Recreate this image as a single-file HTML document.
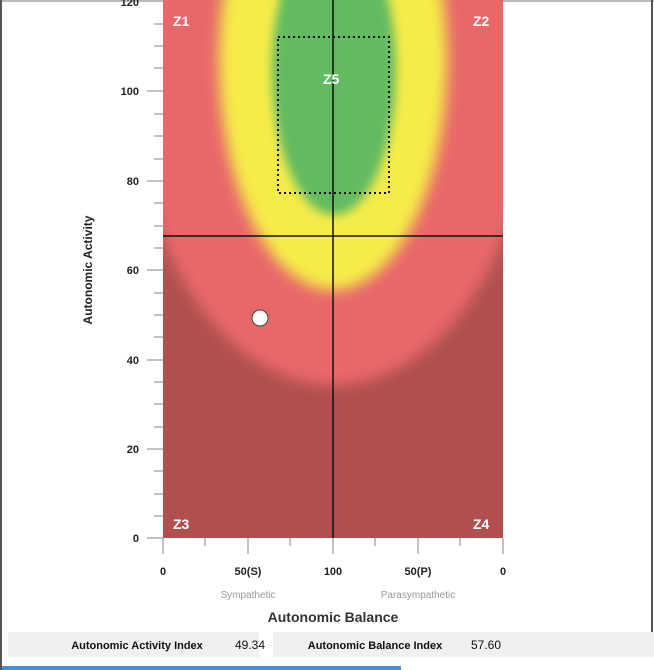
<!DOCTYPE html>
<html><head><style>
body{margin:0;background:#fff;width:654px;height:670px;overflow:hidden;font-family:"Liberation Sans",sans-serif}
</style></head><body>
<svg width="654" height="670" xmlns="http://www.w3.org/2000/svg" style="position:absolute;left:0;top:0">
<defs>
<clipPath id="c"><rect x="163" y="0" width="340" height="538"/></clipPath>
<filter id="b" x="-50%" y="-50%" width="200%" height="200%"><feGaussianBlur stdDeviation="7"/></filter>
<filter id="g" x="-50%" y="-50%" width="200%" height="200%"><feGaussianBlur stdDeviation="5"/></filter>
</defs>
<rect x="0" y="0" width="654" height="2" fill="#bbb"/>
<rect x="0" y="0" width="2" height="670" fill="#555"/>
<rect x="651" y="0" width="2" height="632" fill="#555"/>
<g clip-path="url(#c)">
<rect x="163" y="0" width="340" height="538" fill="#b0504e"/>
<ellipse cx="333" cy="60" rx="204" ry="325" fill="#e8676a" filter="url(#b)"/>
<ellipse cx="333" cy="60" rx="114" ry="230" fill="#f5ec48" filter="url(#b)"/>
<ellipse cx="334" cy="70" rx="62" ry="145" fill="#62bb60" filter="url(#g)"/>
<line x1="333" y1="0" x2="333" y2="538" stroke="#111" stroke-width="1.5"/>
<line x1="163" y1="236" x2="503" y2="236" stroke="#111" stroke-width="1.5"/>
<rect x="278" y="37" width="111" height="156" fill="none" stroke="#111" stroke-width="2" stroke-dasharray="2,3"/>
</g>
<g fill="#fff" font-weight="bold" font-size="14">
<text x="173" y="26">Z1</text><text x="473" y="26">Z2</text>
<text x="173" y="529">Z3</text><text x="473" y="529">Z4</text>
<text x="323" y="84">Z5</text>
</g>
<circle cx="260" cy="318" r="8" fill="#fff" stroke="#444" stroke-width="1"/>
<g stroke="#999" stroke-width="1.2">
<line x1="147" y1="538" x2="163" y2="538"/>
<line x1="147" y1="449" x2="163" y2="449"/>
<line x1="147" y1="360" x2="163" y2="360"/>
<line x1="147" y1="270" x2="163" y2="270"/>
<line x1="147" y1="181" x2="163" y2="181"/>
<line x1="147" y1="91" x2="163" y2="91"/>
<line x1="154" y1="516" x2="163" y2="516"/><line x1="154" y1="494" x2="163" y2="494"/><line x1="154" y1="471" x2="163" y2="471"/>
<line x1="154" y1="427" x2="163" y2="427"/><line x1="154" y1="404" x2="163" y2="404"/><line x1="154" y1="382" x2="163" y2="382"/>
<line x1="154" y1="337" x2="163" y2="337"/><line x1="154" y1="315" x2="163" y2="315"/><line x1="154" y1="293" x2="163" y2="293"/>
<line x1="154" y1="248" x2="163" y2="248"/><line x1="154" y1="226" x2="163" y2="226"/><line x1="154" y1="203" x2="163" y2="203"/>
<line x1="154" y1="159" x2="163" y2="159"/><line x1="154" y1="136" x2="163" y2="136"/><line x1="154" y1="114" x2="163" y2="114"/>
<line x1="154" y1="68" x2="163" y2="68"/><line x1="154" y1="46" x2="163" y2="46"/><line x1="154" y1="24" x2="163" y2="24"/>
<line x1="163" y1="538" x2="163" y2="554"/><line x1="248" y1="538" x2="248" y2="554"/><line x1="333" y1="538" x2="333" y2="554"/><line x1="418" y1="538" x2="418" y2="554"/><line x1="503" y1="538" x2="503" y2="554"/>
<line x1="205" y1="538" x2="205" y2="546"/><line x1="290" y1="538" x2="290" y2="546"/><line x1="375" y1="538" x2="375" y2="546"/><line x1="460" y1="538" x2="460" y2="546"/>
</g>
<g font-size="11" font-weight="bold" fill="#222" text-anchor="end">
<text x="139" y="542">0</text><text x="139" y="453">20</text><text x="139" y="364">40</text>
<text x="139" y="274">60</text><text x="139" y="185">80</text><text x="139" y="95">100</text><text x="139" y="6">120</text>
</g>
<g font-size="11" font-weight="bold" fill="#222" text-anchor="middle">
<text x="163" y="575">0</text><text x="248" y="575">50(S)</text><text x="333" y="575">100</text><text x="418" y="575">50(P)</text><text x="503" y="575">0</text>
</g>
<g font-size="10" fill="#999" text-anchor="middle">
<text x="248" y="598">Sympathetic</text><text x="418" y="598">Parasympathetic</text>
</g>
<text x="333" y="622" font-size="14" font-weight="bold" fill="#333" text-anchor="middle">Autonomic Balance</text>
<text transform="translate(92,270) rotate(-90)" font-size="12" font-weight="bold" fill="#222" text-anchor="middle">Autonomic Activity</text>
<rect x="8" y="632" width="251" height="25" fill="#f0f0f0"/>
<rect x="273" y="632" width="381" height="25" fill="#f0f0f0"/>
<text x="137" y="649" font-size="11" font-weight="bold" fill="#111" text-anchor="middle">Autonomic Activity Index</text>
<text x="250" y="649" font-size="12" fill="#111" text-anchor="middle">49.34</text>
<text x="375" y="649" font-size="11" font-weight="bold" fill="#111" text-anchor="middle">Autonomic Balance Index</text>
<text x="486" y="649" font-size="12" fill="#111" text-anchor="middle">57.60</text>
<rect x="2" y="666" width="399" height="4" fill="#3d8fd8"/>
</svg>
</body></html>
